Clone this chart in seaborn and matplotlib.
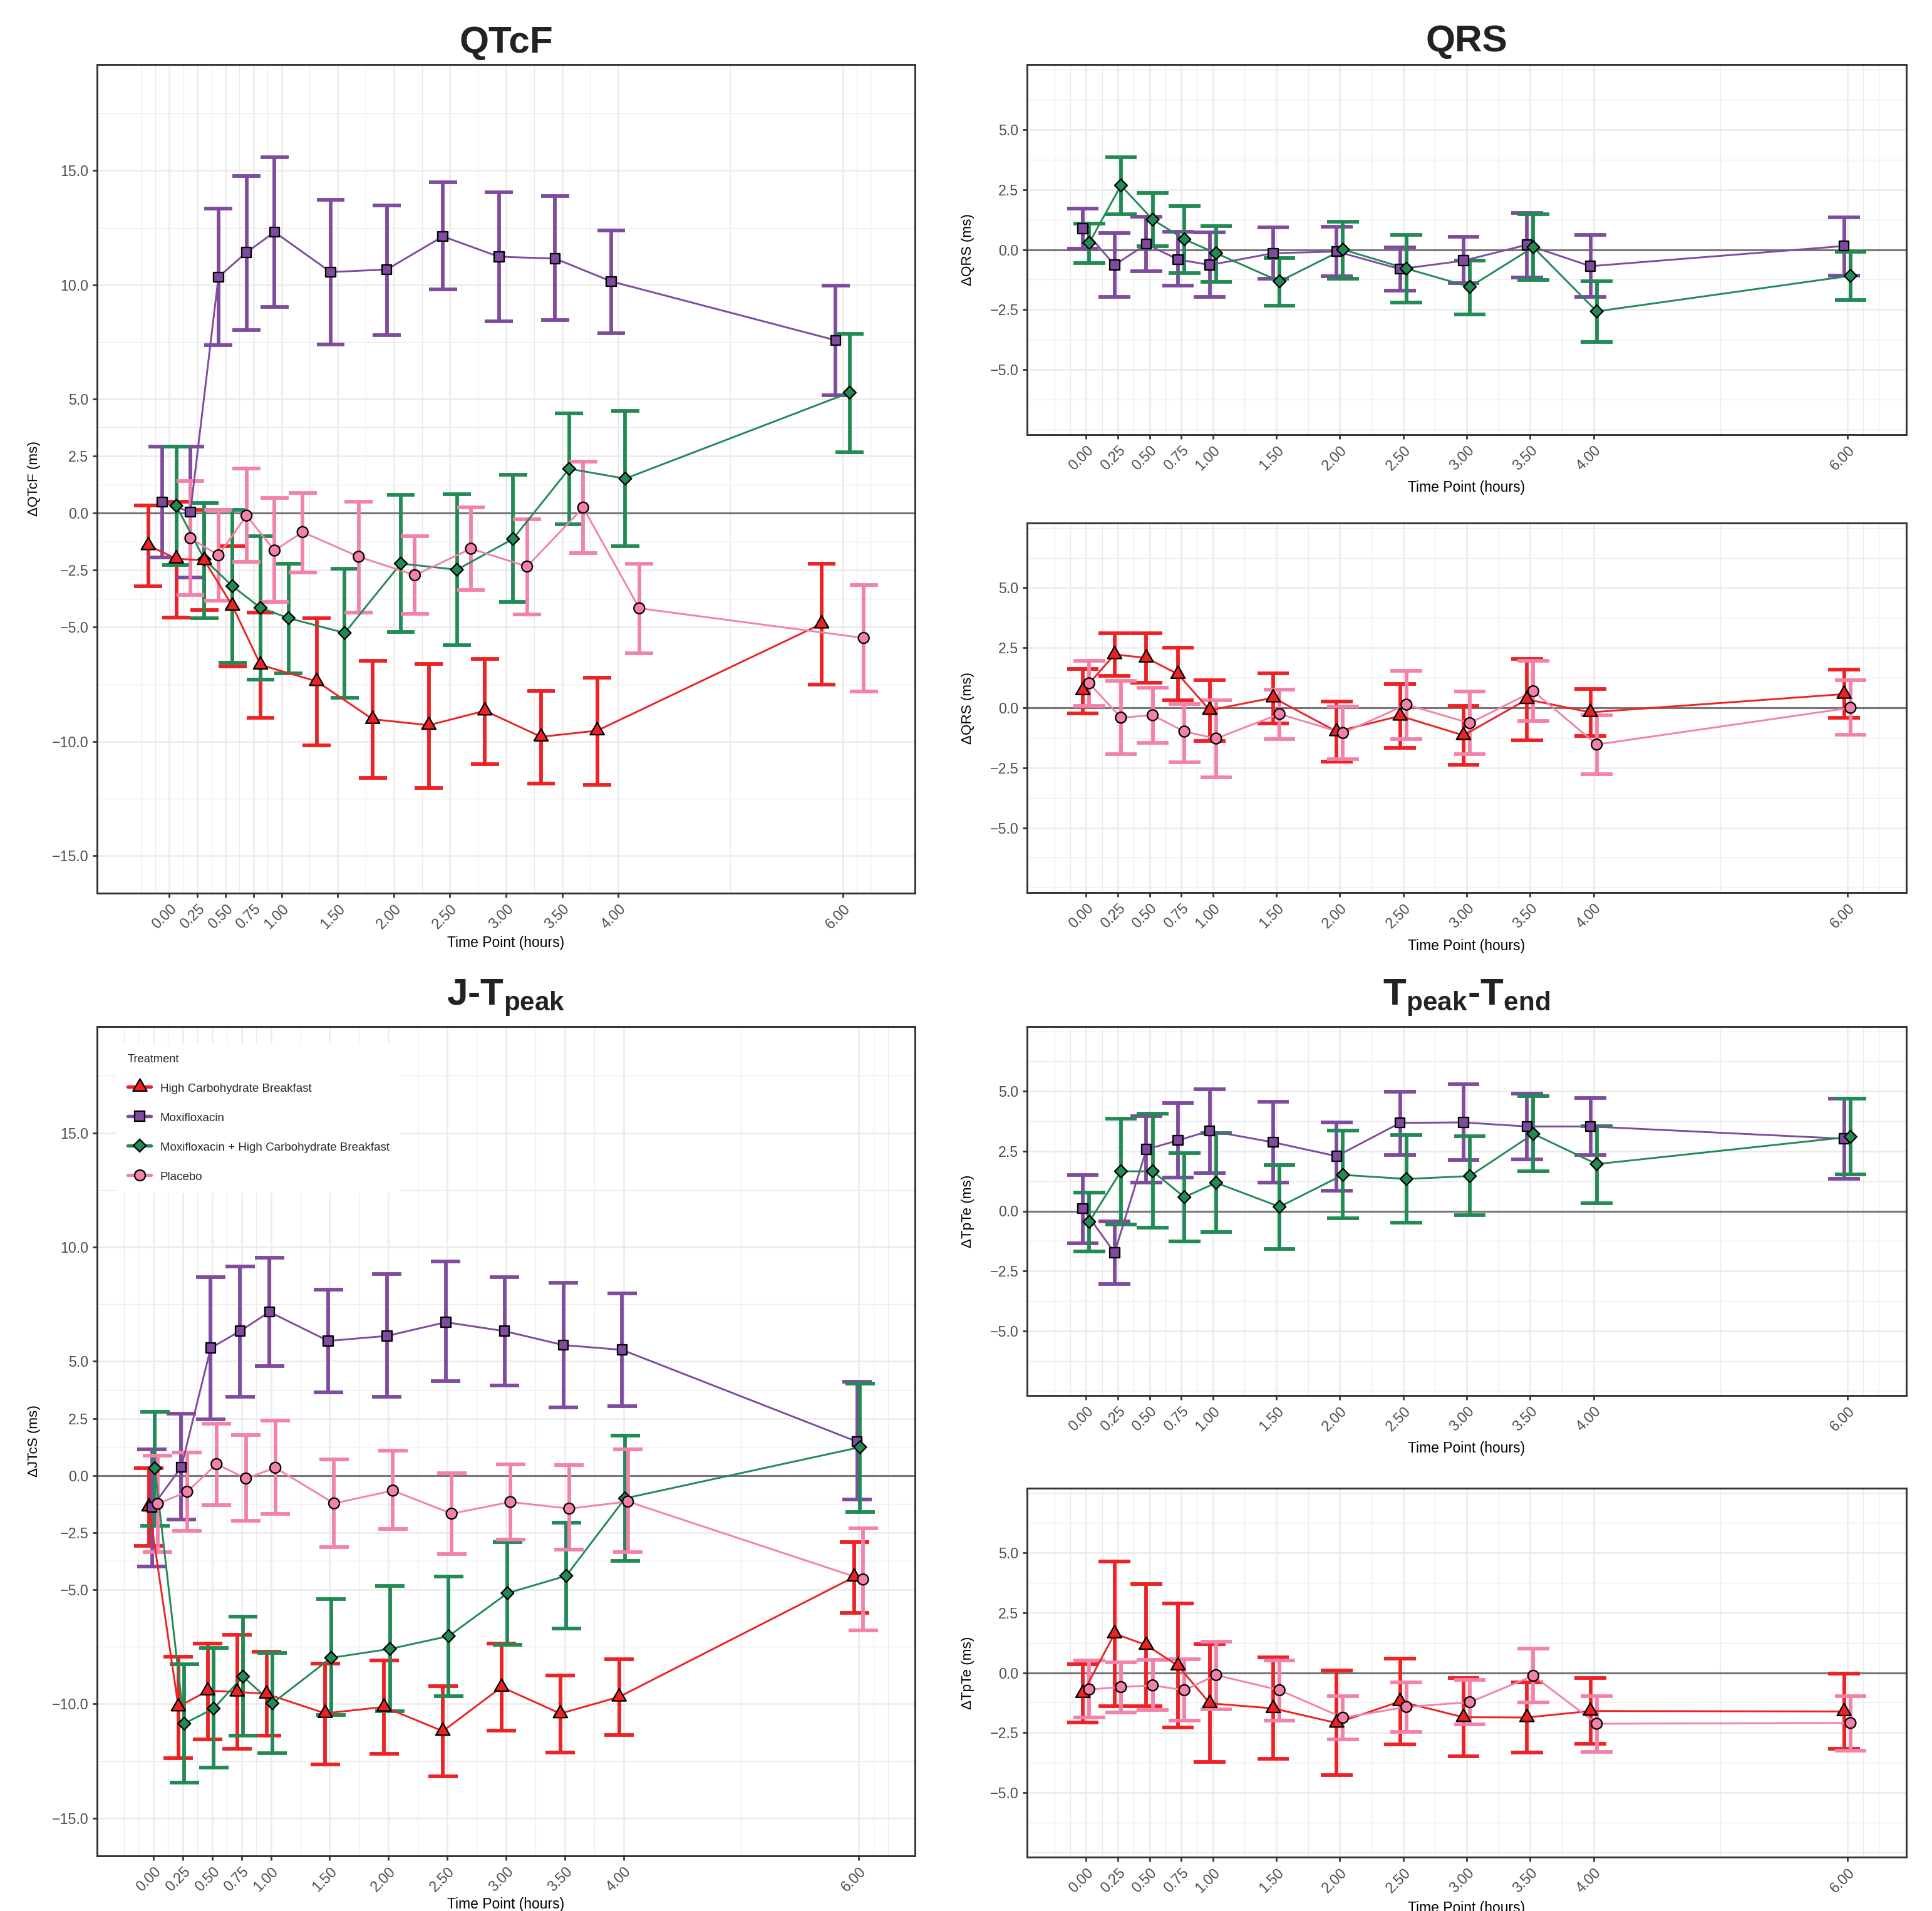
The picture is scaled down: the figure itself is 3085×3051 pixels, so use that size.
import matplotlib
matplotlib.use("Agg")
import matplotlib.pyplot as plt
from matplotlib.lines import Line2D
from matplotlib.path import Path
from matplotlib.ticker import FixedLocator, FixedFormatter
import numpy as np
import pandas as pd
import seaborn as sns

# time points (hours) and their tick labels
times = [0.0, 0.25, 0.5, 0.75, 1.0, 1.5, 2.0, 2.5, 3.0, 3.5, 4.0, 6.0]
time_labels = ["0.00", "0.25", "0.50", "0.75", "1.00", "1.50", "2.00", "2.50",
               "3.00", "3.50", "4.00", "6.00"]

HCB = "High Carbohydrate Breakfast"
MOXI = "Moxifloxacin"
COMBO = "Moxifloxacin + High Carbohydrate Breakfast"
PLACEBO = "Placebo"
treatments = [HCB, MOXI, COMBO, PLACEBO]

# QTcF
hcb_qtcf_mean = [-1.42, -2.0, -2.07, -4.07, -6.65, -7.37, -9.03, -9.29, -8.66, -9.8, -9.53, -4.85]
hcb_qtcf_lo = [-3.2, -4.59, -4.25, -6.72, -8.98, -10.18, -11.6, -12.05, -11.0, -11.86, -11.9, -7.5]
hcb_qtcf_hi = [0.33, 0.5, 0.15, -1.45, -4.37, -4.6, -6.47, -6.6, -6.38, -7.78, -7.2, -2.21]
moxi_qtcf_mean = [0.48, 0.05, 10.34, 11.42, 12.31, 10.56, 10.67, 12.12, 11.23, 11.15, 10.15, 7.57]
moxi_qtcf_lo = [-1.94, -2.83, 7.35, 8.03, 9.02, 7.38, 7.81, 9.8, 8.4, 8.46, 7.89, 5.17]
moxi_qtcf_hi = [2.91, 2.91, 13.33, 14.76, 15.59, 13.71, 13.49, 14.49, 14.06, 13.9, 12.39, 9.97]
combo_qtcf_mean = [0.32, -2.03, -3.2, -4.15, -4.6, -5.25, -2.21, -2.48, -1.13, 1.94, 1.51, 5.28]
combo_qtcf_lo = [-2.28, -4.61, -6.54, -7.3, -7.03, -8.08, -5.2, -5.79, -3.9, -0.48, -1.45, 2.67]
combo_qtcf_hi = [2.92, 0.45, 0.13, -1.0, -2.21, -2.45, 0.81, 0.83, 1.67, 4.36, 4.47, 7.86]
placebo_qtcf_mean = [-1.1, -1.85, -0.11, -1.64, -0.83, -1.91, -2.72, -1.56, -2.34, 0.24, -4.17, -5.47]
placebo_qtcf_lo = [-3.58, -3.85, -2.13, -3.9, -2.59, -4.36, -4.42, -3.37, -4.44, -1.75, -6.14, -7.81]
placebo_qtcf_hi = [1.4, 0.13, 1.94, 0.65, 0.89, 0.51, -1.02, 0.24, -0.27, 2.26, -2.21, -3.15]

# QRS
moxi_qrs_mean = [0.87, -0.64, 0.23, -0.41, -0.64, -0.15, -0.08, -0.81, -0.46, 0.2, -0.69, 0.15]
moxi_qrs_lo = [0.03, -1.96, -0.89, -1.5, -1.98, -1.2, -1.12, -1.7, -1.4, -1.17, -1.96, -1.07]
moxi_qrs_hi = [1.7, 0.69, 1.37, 0.74, 0.71, 0.92, 0.94, 0.1, 0.53, 1.53, 0.61, 1.35]
combo_qrs_mean = [0.28, 2.67, 1.25, 0.43, -0.15, -1.32, 0.0, -0.79, -1.55, 0.1, -2.57, -1.09]
combo_qrs_lo = [-0.56, 1.48, 0.15, -0.97, -1.35, -2.32, -1.22, -2.21, -2.7, -1.27, -3.84, -2.11]
combo_qrs_hi = [1.09, 3.84, 2.37, 1.81, 0.97, -0.36, 1.15, 0.61, -0.46, 1.48, -1.32, -0.1]
hcb_qrs_mean = [0.72, 2.22, 2.08, 1.4, -0.1, 0.42, -0.99, -0.34, -1.15, 0.35, -0.19, 0.57]
hcb_qrs_lo = [-0.23, 1.33, 1.05, 0.31, -1.38, -0.64, -2.24, -1.66, -2.37, -1.35, -1.17, -0.41]
hcb_qrs_hi = [1.63, 3.11, 3.11, 2.5, 1.15, 1.43, 0.26, 0.99, 0.08, 2.04, 0.79, 1.58]
placebo_qrs_mean = [1.02, -0.41, -0.31, -0.99, -1.28, -0.26, -1.05, 0.13, -0.64, 0.69, -1.53, 0.0]
placebo_qrs_lo = [0.08, -1.94, -1.45, -2.27, -2.91, -1.3, -2.14, -1.3, -1.94, -0.56, -2.76, -1.12]
placebo_qrs_hi = [1.96, 1.12, 0.84, 0.15, 0.31, 0.77, 0.04, 1.53, 0.69, 1.96, -0.31, 1.15]

# J-Tpeak
hcb_jt_mean = [-1.37, -10.12, -9.42, -9.47, -9.56, -10.41, -10.13, -11.19, -9.26, -10.42, -9.69, -4.44]
hcb_jt_lo = [-3.09, -12.37, -11.55, -11.97, -11.39, -12.64, -12.19, -13.16, -11.18, -12.13, -11.37, -6.0]
hcb_jt_hi = [0.32, -7.93, -7.35, -6.98, -7.72, -8.22, -8.09, -9.23, -7.35, -8.75, -8.04, -2.91]
moxi_jt_mean = [-1.4, 0.37, 5.58, 6.32, 7.16, 5.89, 6.11, 6.71, 6.32, 5.71, 5.5, 1.48]
moxi_jt_lo = [-3.97, -1.93, 2.46, 3.44, 4.78, 3.65, 3.44, 4.12, 3.94, 2.99, 3.04, -1.06]
moxi_jt_hi = [1.14, 2.72, 8.67, 9.15, 9.54, 8.14, 8.83, 9.36, 8.67, 8.43, 7.98, 4.1]
combo_jt_mean = [0.32, -10.86, -10.2, -8.8, -9.97, -7.98, -7.59, -7.03, -5.15, -4.39, -1.0, 1.24]
combo_jt_lo = [-2.19, -13.45, -12.79, -11.39, -12.16, -10.49, -10.31, -9.67, -7.4, -6.69, -3.75, -1.59]
combo_jt_hi = [2.8, -8.27, -7.56, -6.19, -7.77, -5.42, -4.84, -4.41, -2.91, -2.06, 1.74, 4.02]
placebo_jt_mean = [-1.24, -0.71, 0.5, -0.13, 0.34, -1.22, -0.66, -1.67, -1.16, -1.45, -1.14, -4.55]
placebo_jt_lo = [-3.36, -2.41, -1.3, -1.98, -1.69, -3.12, -2.35, -3.44, -2.8, -3.25, -3.36, -6.77]
placebo_jt_hi = [0.87, 1.0, 2.27, 1.77, 2.41, 0.71, 1.08, 0.11, 0.48, 0.45, 1.14, -2.3]

# Tpeak-Tend
moxi_tp_mean = [0.1, -1.74, 2.57, 2.95, 3.35, 2.87, 2.29, 3.68, 3.7, 3.53, 3.53, 3.02]
moxi_tp_lo = [-1.34, -3.05, 1.18, 1.39, 1.59, 1.18, 0.86, 2.34, 2.12, 2.17, 2.34, 1.34]
moxi_tp_hi = [1.51, -0.43, 3.95, 4.51, 5.09, 4.56, 3.7, 4.99, 5.29, 4.89, 4.71, 4.69]
combo_tp_mean = [-0.45, 1.66, 1.66, 0.58, 1.18, 0.18, 1.51, 1.34, 1.46, 3.22, 1.96, 3.1]
combo_tp_lo = [-1.69, -0.55, -0.68, -1.28, -0.88, -1.59, -0.3, -0.48, -0.18, 1.66, 0.33, 1.54]
combo_tp_hi = [0.78, 3.85, 4.06, 2.42, 3.25, 1.91, 3.35, 3.17, 3.12, 4.79, 3.55, 4.69]
hcb_tp_mean = [-0.86, 1.63, 1.15, 0.29, -1.28, -1.49, -2.1, -1.2, -1.86, -1.87, -1.6, -1.62]
hcb_tp_lo = [-2.08, -1.4, -1.4, -2.3, -3.73, -3.6, -4.28, -3.0, -3.48, -3.33, -2.98, -3.18]
hcb_tp_hi = [0.35, 4.65, 3.7, 2.88, 1.18, 0.63, 0.08, 0.6, -0.23, -0.4, -0.23, -0.05]
placebo_tp_mean = [-0.7, -0.6, -0.53, -0.73, -0.1, -0.73, -1.88, -1.43, -1.23, -0.13, -2.13, -2.1]
placebo_tp_lo = [-1.88, -1.65, -1.55, -2.0, -1.53, -2.0, -2.78, -2.48, -2.15, -1.25, -3.3, -3.25]
placebo_tp_hi = [0.5, 0.43, 0.53, 0.55, 1.3, 0.5, -0.98, -0.4, -0.3, 1.0, -0.98, -0.98]

palette = {HCB: "#EE2124", MOXI: "#7F4B9F", COMBO: "#218A55", PLACEBO: "#F282A9"}

# equilateral triangle centred on its centroid (like R's pch 24)
tri = Path([(-1, -0.577), (1, -0.577), (0, 1.155), (-1, -0.577)],
           [Path.MOVETO, Path.LINETO, Path.LINETO, Path.CLOSEPOLY])
markers = {HCB: tri, MOXI: "s", COMBO: "D", PLACEBO: "o"}
msize = {HCB: 6.2, MOXI: 3.7, COMBO: 3.4, PLACEBO: 4.1}

sns.set_theme(style="white")
plt.rcParams["font.family"] = ["Liberation Sans", "DejaVu Sans"]
plt.rcParams["mathtext.fontset"] = "custom"
plt.rcParams["mathtext.rm"] = "Liberation Sans"
plt.rcParams["mathtext.bf"] = "Liberation Sans:bold"
plt.rcParams["mathtext.it"] = "Liberation Sans:italic"

W, H, DPI = 3085, 3051, 300
fig = plt.figure(figsize=(W / DPI, H / DPI), dpi=DPI, facecolor="white")


def add_ax(left, top, right, bottom):
    return fig.add_axes([left / W, 1 - bottom / H, (right - left) / W, (bottom - top) / H])


def frame(metric, parts):
    rows = []
    for name, mean, lo, hi in parts:
        rows.append(pd.DataFrame({"metric": metric, "Treatment": name, "time": times,
                                  "mean": mean, "lo": lo, "hi": hi}))
    return pd.concat(rows, ignore_index=True)


def minor_breaks(major, lo, hi):
    b = list(major)
    step = b[1] - b[0]
    if lo < b[0]:
        b = [b[0] - step] + b
    if hi > b[-1]:
        b = b + [b[-1] + step]
    out = []
    for a, c in zip(b[:-1], b[1:]):
        out += [a, (a + c) / 2]
    out.append(b[-1])
    return [v for v in out if v not in major and lo <= v <= hi]


def draw_panel(ax, data, dodge, xlim, ylim, yticks, ylabel, label_x, xlab_off):
    groups = list(dict.fromkeys(data["Treatment"]))
    n = len(groups)
    offs = {g: (i - (n - 1) / 2) * dodge / n for i, g in enumerate(groups)}
    data = data.copy()
    data["x"] = data["time"] + data["Treatment"].map(offs)
    data["order"] = data["Treatment"].map({g: i for i, g in enumerate(groups)})

    ax.axhline(0, color="#777777", lw=0.75, zorder=1)

    # error bars
    for g in groups:
        d = data[data["Treatment"] == g]
        c = palette[g]
        ax.vlines(d["x"], d["lo"], d["hi"], colors=c, linewidth=1.4, zorder=2)
        xs = np.concatenate([d["x"], d["x"]])
        ys = np.concatenate([d["lo"], d["hi"]])
        ax.hlines(ys, xs - 0.125, xs + 0.125, colors=c, linewidth=1.4, zorder=2)

    sns.lineplot(data=data, x="x", y="mean", hue="Treatment", hue_order=groups,
                 palette=palette, estimator=None, sort=False, legend=False,
                 linewidth=0.7, ax=ax, zorder=3)

    pts = data.sort_values(["time", "order"])
    sns.scatterplot(data=pts, x="x", y="mean", hue="Treatment", hue_order=groups,
                    style="Treatment", style_order=groups, markers=markers,
                    size="Treatment", size_order=groups,
                    sizes={g: msize[g] ** 2 for g in groups},
                    palette=palette, edgecolor="black", linewidth=0.55,
                    legend=False, ax=ax, zorder=4)

    ax.set_xlim(*xlim)
    ax.set_ylim(*ylim)
    ax.xaxis.set_major_locator(FixedLocator(times))
    ax.xaxis.set_major_formatter(FixedFormatter(time_labels))
    ax.xaxis.set_minor_locator(FixedLocator(minor_breaks(times, *xlim)))
    ax.yaxis.set_major_locator(FixedLocator(yticks))
    ax.yaxis.set_major_formatter(FixedFormatter([f"{v:.1f}".replace("-", "\u2212") for v in yticks]))
    ax.yaxis.set_minor_locator(FixedLocator(minor_breaks(yticks, *ylim)))

    ax.set_axisbelow(True)
    ax.grid(True, which="major", color="#EBEBEB", linewidth=0.6)
    ax.grid(True, which="minor", color="#EBEBEB", linewidth=0.3)
    for s in ax.spines.values():
        s.set_visible(True)
        s.set_color("#333333")
        s.set_linewidth(0.7)
    ax.tick_params(which="major", length=1.7, width=0.65, color="#333333",
                   labelsize=5.6, labelcolor="#4D4D4D", pad=1.6,
                   bottom=True, left=True)
    ax.tick_params(which="minor", length=0, bottom=False, left=False)
    for lab in ax.get_xticklabels():
        lab.set_rotation(45)
        lab.set_ha("right")
        lab.set_va("top")
        lab.set_rotation_mode("anchor")

    ax.set_xlabel("Time Point (hours)", fontsize=5.5, color="black", va="center")
    ax.set_ylabel(ylabel, fontsize=5.4, color="black", va="center")
    ax.yaxis.set_label_coords(label_x, 0.5)
    ax.xaxis.set_label_coords(0.5, xlab_off)


qtcf = frame("QTcF", [(HCB, hcb_qtcf_mean, hcb_qtcf_lo, hcb_qtcf_hi),
                      (MOXI, moxi_qtcf_mean, moxi_qtcf_lo, moxi_qtcf_hi),
                      (COMBO, combo_qtcf_mean, combo_qtcf_lo, combo_qtcf_hi),
                      (PLACEBO, placebo_qtcf_mean, placebo_qtcf_lo, placebo_qtcf_hi)])
jt = frame("JTpeak", [(HCB, hcb_jt_mean, hcb_jt_lo, hcb_jt_hi),
                      (MOXI, moxi_jt_mean, moxi_jt_lo, moxi_jt_hi),
                      (COMBO, combo_jt_mean, combo_jt_lo, combo_jt_hi),
                      (PLACEBO, placebo_jt_mean, placebo_jt_lo, placebo_jt_hi)])
qrs_moxi = frame("QRS", [(MOXI, moxi_qrs_mean, moxi_qrs_lo, moxi_qrs_hi),
                         (COMBO, combo_qrs_mean, combo_qrs_lo, combo_qrs_hi)])
qrs_hcb = frame("QRS", [(HCB, hcb_qrs_mean, hcb_qrs_lo, hcb_qrs_hi),
                        (PLACEBO, placebo_qrs_mean, placebo_qrs_lo, placebo_qrs_hi)])
tp_moxi = frame("TpTe", [(MOXI, moxi_tp_mean, moxi_tp_lo, moxi_tp_hi),
                         (COMBO, combo_tp_mean, combo_tp_lo, combo_tp_hi)])
tp_hcb = frame("TpTe", [(HCB, hcb_tp_mean, hcb_tp_lo, hcb_tp_hi),
                        (PLACEBO, placebo_tp_mean, placebo_tp_lo, placebo_tp_hi)])

big_ticks = [-15, -10, -5, -2.5, 0, 2.5, 5, 10, 15]
small_ticks = [-5, -2.5, 0, 2.5, 5]
big_ylim = (-16.65, 19.65)
small_ylim = (-7.7, 7.7)

title_kw = dict(fontsize=14.5, fontweight="bold", color="#222222")

# left column
ax1 = add_ax(155, 103, 1461, 1426)
draw_panel(ax1, qtcf, 0.5, (-0.644, 6.644), big_ylim, big_ticks, "\u0394QTcF (ms)", -0.0766, -80 / 1323)
ax1.set_title("QTcF", pad=4.6, **title_kw)

ax2 = add_ax(155, 1639, 1461, 2963)
draw_panel(ax2, jt, 0.1, (-0.479, 6.479), big_ylim, big_ticks, "\u0394JTcS (ms)", -0.0766, -78 / 1324)
ax2.set_title(r"J-T$_{\mathbf{peak}}$", pad=8.2, **title_kw)

# right column
ax3 = add_ax(1640, 103, 3044, 694)
draw_panel(ax3, qrs_moxi, 0.1, (-0.465, 6.465), small_ylim, small_ticks, "\u0394QRS (ms)", -0.067, -85 / 591)
ax3.set_title("QRS", pad=5.0, **title_kw)

ax4 = add_ax(1640, 835, 3044, 1425)
draw_panel(ax4, qrs_hcb, 0.1, (-0.465, 6.465), small_ylim, small_ticks, "\u0394QRS (ms)", -0.067, -85 / 590)

ax5 = add_ax(1640, 1639, 3044, 2228)
draw_panel(ax5, tp_moxi, 0.1, (-0.465, 6.465), small_ylim, small_ticks, "\u0394TpTe (ms)", -0.067, -85 / 589)
ax5.set_title(r"T$_{\mathbf{peak}}$-T$_{\mathbf{end}}$", pad=8.2, **title_kw)

ax6 = add_ax(1640, 2376, 3044, 2965)
draw_panel(ax6, tp_hcb, 0.1, (-0.465, 6.465), small_ylim, small_ticks, "\u0394TpTe (ms)", -0.067, -82 / 589)

# legend inside the J-Tpeak panel
handles = [Line2D([0], [0], color=palette[t], lw=1.3, marker=markers[t],
                  markersize=msize[t], markerfacecolor=palette[t],
                  markeredgecolor="black", markeredgewidth=0.55)
           for t in treatments]
leg = ax2.legend(handles, treatments, title="Treatment", loc="upper left",
                 bbox_to_anchor=(32 / 1306, 1 - 27 / 1324), borderaxespad=0,
                 fontsize=4.5, title_fontsize=4.4, frameon=True, fancybox=False,
                 framealpha=1, facecolor="white", edgecolor="none",
                 borderpad=0.9, labelspacing=1.5, handleheight=1.0,
                 handlelength=2.0, handletextpad=0.77, alignment="left")
leg.set_zorder(10)

fig.savefig("out.png", dpi=DPI, facecolor="white")
